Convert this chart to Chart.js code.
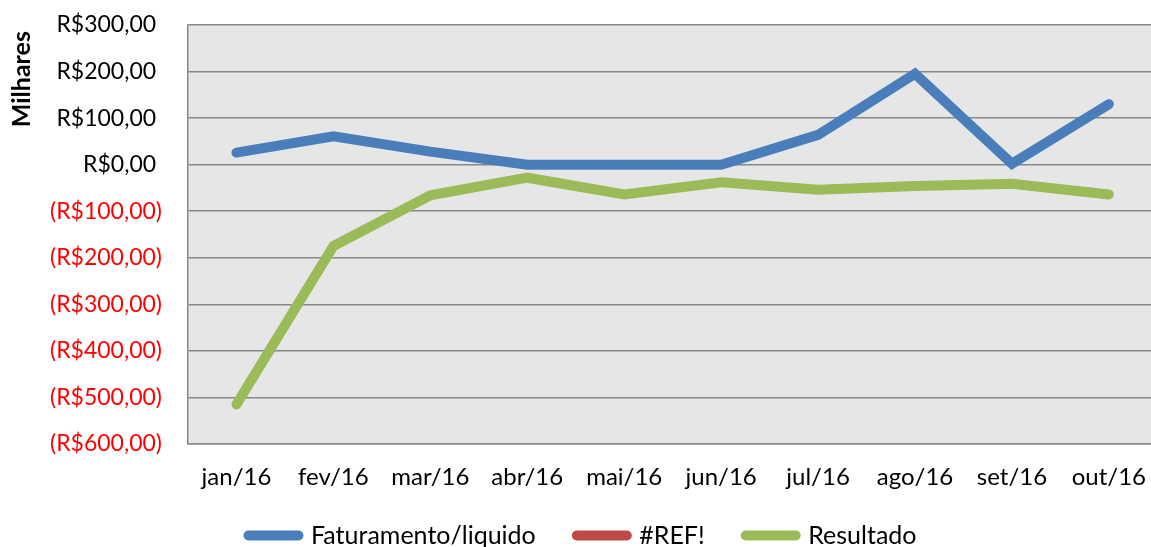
<!DOCTYPE html>
<html>
<head>
<meta charset="utf-8">
<script src="https://cdn.jsdelivr.net/npm/chart.js@4.4.1/dist/chart.umd.min.js"></script>
<style>
  html, body { margin: 0; padding: 0; background: #fff; overflow: hidden; }
  #janela { width: 1151px; height: 547px; overflow: hidden; position: relative; }
  #wrap { width: 1165px; height: 547px; position: absolute; left: 0; top: 0; }
</style>
</head>
<body>
<div id="janela"><div id="wrap"><canvas id="chart" width="1165" height="547"></canvas></div></div>
<script>
// Dados (em milhares de R$)
const meses = ['jan/16', 'fev/16', 'mar/16', 'abr/16', 'mai/16', 'jun/16', 'jul/16', 'ago/16', 'set/16', 'out/16'];
const faturamento = [26, 61, 28, 0, 0, 0, 64, 195, 2, 130];
const refErro = [null, null, null, null, null, null, null, null, null, null];
const resultado = [-515, -175, -66, -28, -64, -38, -54, -46, -41, -64];

const FONTE = 'Lato, "Open Sans", sans-serif';

function formatarReal(v) {
  const txt = 'R$' + Math.abs(v).toFixed(2).replace('.', ',');
  return v < 0 ? '(' + txt + ')' : txt + ' ';
}

// fundo cinza da área do gráfico
const fundoArea = {
  id: 'fundoArea',
  beforeDraw(chart) {
    const { ctx, chartArea: a } = chart;
    ctx.save();
    ctx.fillStyle = '#e6e6e6';
    ctx.fillRect(a.left, a.top, a.right - a.left, a.bottom - a.top);
    ctx.restore();
  }
};

// altura fixa da legenda e leve subida dela
const ajusteLegenda = {
  id: 'ajusteLegenda',
  beforeInit(chart) {
    const fit = chart.legend.fit;
    chart.legend.fit = function () {
      fit.call(this);
      this.height = 53;
    };
  },
  afterLayout(chart) {
    chart.legend.top -= 12;
  }
};

const linha = (label, data, cor) => ({
  label,
  data,
  borderColor: cor,
  backgroundColor: cor,
  borderWidth: 10,
  borderCapStyle: 'round',
  borderJoinStyle: 'miter',
  pointRadius: 0,
  pointHoverRadius: 0,
  pointStyle: 'line',
  tension: 0,
  fill: false
});

new Chart(document.getElementById('chart'), {
  type: 'line',
  data: {
    labels: meses,
    datasets: [
      linha('Faturamento/liquido', faturamento, '#4a7ebb'),
      linha('#REF!', refErro, '#be4b48'),
      linha('Resultado', resultado, '#9bbb59')
    ]
  },
  plugins: [fundoArea, ajusteLegenda],
  options: {
    responsive: false,
    animation: false,
    layout: { padding: 0 },
    plugins: {
      tooltip: { enabled: false },
      legend: {
        position: 'bottom',
        labels: {
          usePointStyle: true,
          pointStyleWidth: 50,
          boxHeight: 10,
          padding: 41,
          color: '#000',
          font: { family: FONTE, size: 25 },
          generateLabels: chart =>
            Chart.defaults.plugins.legend.labels.generateLabels(chart)
              .map(item => ({ ...item, lineCap: 'round', lineWidth: 10 }))
        }
      }
    },
    scales: {
      x: {
        offset: true,
        afterFit(scale) { scale.height = 50; },
        grid: { display: false, drawTicks: false },
        border: { display: true, color: '#888', width: 1.5 },
        ticks: { color: '#000', padding: 19, font: { family: FONTE, size: 24 } }
      },
      y: {
        min: -600,
        max: 300,
        afterFit(scale) {
          scale.width = 188;
          scale.paddingTop = 25;
          scale.paddingBottom = 0;
        },
        grid: { color: '#888', lineWidth: 1.5, drawTicks: false },
        border: { display: true, color: '#888', width: 1.5 },
        ticks: {
          stepSize: 100,
          padding: 26,
          font: { family: FONTE, size: 23 },
          color: ctx => (ctx.tick && ctx.tick.value < 0 ? '#ff0000' : '#000'),
          callback: v => formatarReal(v)
        },
        title: {
          display: true,
          text: 'Milhares ',
          align: 'end',
          color: '#000',
          padding: { top: 7 },
          font: { family: FONTE, size: 25, weight: 'bold' }
        }
      }
    }
  }
});
</script>
</body>
</html>
